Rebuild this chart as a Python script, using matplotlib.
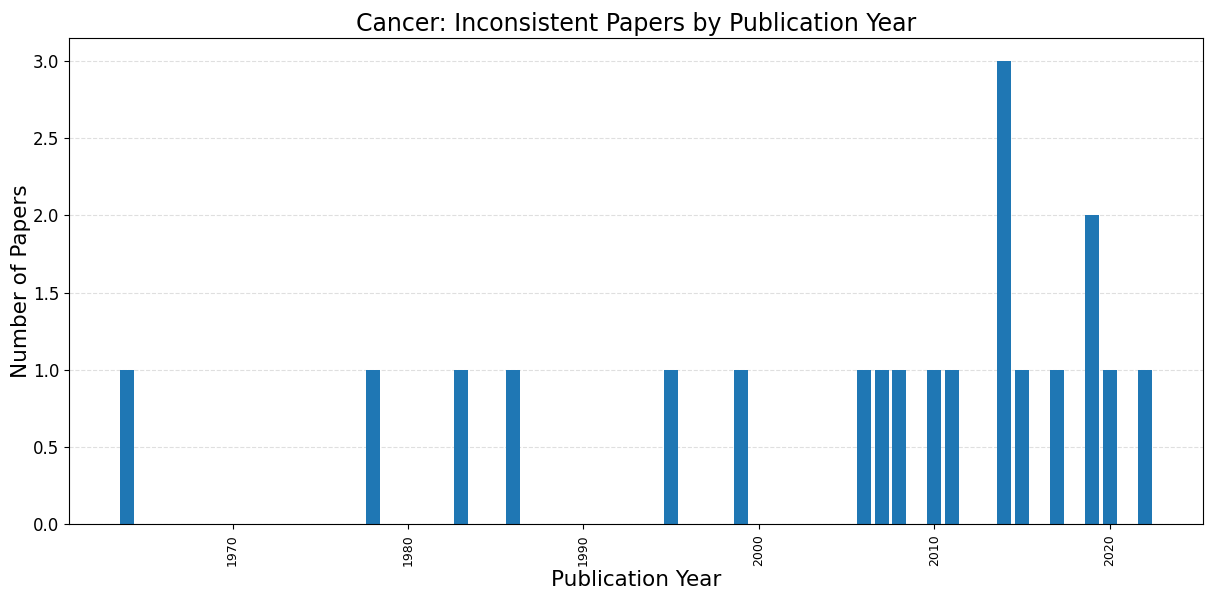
import matplotlib.pyplot as plt

# Inconsistent papers per publication year
years = [1964, 1978, 1983, 1986, 1995, 1999, 2006, 2007, 2008, 2010,
         2011, 2014, 2015, 2017, 2019, 2020, 2022]
counts = [1, 1, 1, 1, 1, 1, 1, 1, 1, 1,
          1, 3, 1, 1, 2, 1, 1]

fig, ax = plt.subplots(figsize=(12.07, 5.93), dpi=100)
ax.bar(years, counts, color="#1f77b4", width=0.8)

ax.set_title("Cancer: Inconsistent Papers by Publication Year", fontsize=17, pad=5)
ax.set_xlabel("Publication Year", fontsize=15.5, labelpad=3)
ax.set_ylabel("Number of Papers", fontsize=15.5, labelpad=1)
ax.tick_params(axis="x", labelrotation=90, labelsize=9)
ax.tick_params(axis="y", labelsize=12)
ax.grid(axis="y", linestyle="--", alpha=0.4)
ax.set_axisbelow(True)

fig.subplots_adjust(left=0.057, right=0.997, top=0.936, bottom=0.116)
plt.savefig("out.png", dpi=100)
